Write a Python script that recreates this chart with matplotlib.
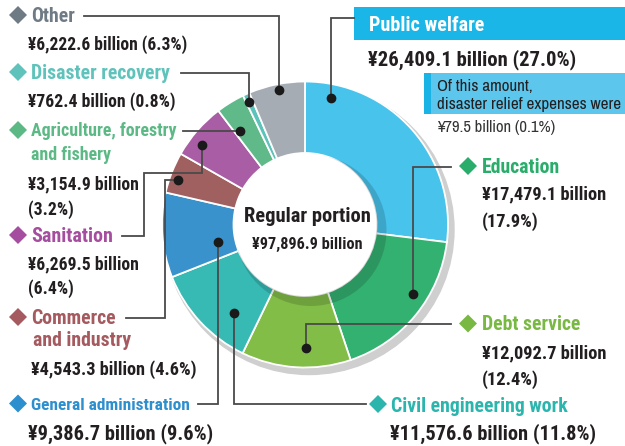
import matplotlib
matplotlib.use("Agg")
import matplotlib.pyplot as plt
from matplotlib.patches import Circle, Polygon, Rectangle

# ---------------- data ----------------
categories = ["Public welfare", "Education", "Debt service", "Civil engineering work",
              "General administration", "Commerce and industry", "Sanitation",
              "Agriculture, forestry and fishery", "Disaster recovery", "Other"]
amounts = [26409.1, 17479.1, 12092.7, 11576.6, 9386.7, 4543.3, 6269.5, 3154.9, 762.4, 6222.6]
shares = [27.0, 17.9, 12.4, 11.8, 9.6, 4.6, 6.4, 3.2, 0.8, 6.3]
total_label = "Regular portion"
total_amount = 97896.9
relief_amount = 79.5
relief_share = 0.1

# ---------------- style ----------------
slice_colors = ["#48c3ec", "#33b171", "#82bd48", "#37b9b4", "#3a92cc",
                "#a06060", "#a85da4", "#60b988", "#5cc2ba", "#a5acb3"]
label_colors = ["#ffffff", "#2aac6a", "#7ab844", "#2bb5ad", "#2e8fcf",
                "#a45a5e", "#a54d9e", "#5cb985", "#5fc3bb", "#6e7b85"]
NARROW = ["Roboto Condensed", "DejaVu Sans"]
REG = ["Archivo Narrow", "Roboto Condensed", "DejaVu Sans"]
K = 0.95
DARK = "#231f20"
LINE = "#4a4a4a"

W, H = 625, 446
fig = plt.figure(figsize=(W / 100, H / 100), dpi=100)
ax = fig.add_axes([0, 0, 1, 1])

def Y(y):
    return H - y

cx, cy, R = 305, 224.5, 143
rin = 71.5

# outer shadow
ax.add_patch(Circle((cx + 4, Y(cy + 5)), R + 2, color="#cfcfcf", zorder=0))

wedges, _ = ax.pie(amounts, colors=slice_colors, startangle=90, counterclock=False,
                   center=(cx, Y(cy)), radius=R,
                   wedgeprops=dict(width=R - rin, edgecolor="white", linewidth=1.3),
                   frame=True)
for w in wedges:
    w.set_zorder(1)

# inner shadow + hole
ax.add_patch(Circle((cx + 6, Y(cy + 6)), rin + 4, color="black", alpha=0.15, zorder=2, lw=0))
ax.add_patch(Circle((cx, Y(cy)), rin, color="white", zorder=3, lw=0))

ax.set_xlim(0, W)
ax.set_ylim(0, H)
ax.set_aspect("equal")
ax.axis("off")

# center text
ax.text(307, Y(216.5), total_label, ha="center", va="center", fontsize=15.5 * K,
        fontweight="bold", family=NARROW, color=DARK, zorder=5)
ax.text(307, Y(244.5), f"¥{total_amount:,.1f} billion", ha="center", va="center",
        fontsize=12.3 * K, fontweight="bold", family=NARROW, color=DARK, zorder=5)

def money(i):
    return f"¥{amounts[i]:,.1f} billion"

def pct(i):
    return f"({shares[i]:.1f}%)"

def diamond(x, y, color, h=9):
    ax.add_patch(Polygon([(x - h, Y(y)), (x, Y(y - h)), (x + h, Y(y)), (x, Y(y + h))],
                         closed=True, color=color, lw=0, zorder=4))

def path(pts):
    xs = [p[0] for p in pts]
    ys = [Y(p[1]) for p in pts]
    ax.plot(xs, ys, color=LINE, lw=1.3, zorder=6, solid_joinstyle="miter")
    ax.plot(xs[0], ys[0], "o", color="#1a1a1a", ms=6, zorder=7)

def txt(x, y, s, size, color=DARK, bold=True, ha="left"):
    if bold:
        ax.text(x, Y(y + 1.5), s, ha=ha, va="center", fontsize=size * K,
                fontweight="bold", family=NARROW, color=color, zorder=8)
    else:
        ax.text(x, Y(y + 1.5), s, ha=ha, va="center", fontsize=size,
                fontweight="normal", family=REG, color=color, zorder=8)

# ----- Other (9)
diamond(18, 15, "#6e7b85")
txt(31, 15, "Other", 15, label_colors[9])
txt(28, 43, f"{money(9)} {pct(9)}", 13.3)
path([(279, 90), (279, 15.5), (84, 15.5)])

# ----- Disaster recovery (8)
diamond(18, 72, label_colors[8])
txt(31, 72, "Disaster recovery", 15, label_colors[8])
txt(28, 100, f"{money(8)} {pct(8)}", 13.4)
path([(249, 101.5), (249, 73), (181, 73)])

# ----- Agriculture (7)
diamond(18, 130, label_colors[7])
txt(31, 130, "Agriculture, forestry", 13.6, label_colors[7])
txt(31, 153, "and fishery", 13.6, label_colors[7])
txt(28, 183, money(7), 13.4)
txt(28, 208, pct(7), 13.4)
path([(240, 130.5), (183, 130.5)])

# ----- Sanitation (6)
diamond(18, 235, label_colors[6])
txt(31, 235, "Sanitation", 15.2, label_colors[6])
txt(28, 263, money(6), 13.4)
txt(28, 287, pct(6), 13.4)
path([(202, 144.5), (202, 172.5), (144, 172.5), (144, 235.5), (122, 235.5)])

# ----- Commerce (5)
diamond(18, 317, label_colors[5])
txt(31, 317, "Commerce", 15, label_colors[5])
txt(33, 339, "and industry", 15, label_colors[5])
txt(31, 368, f"{money(5)} {pct(5)}", 13.8)
path([(178, 180), (165, 180), (165, 318), (126, 318)])

# ----- General administration (4)
diamond(18, 403.5, label_colors[4])
txt(31, 403.5, "General administration", 13.2, label_colors[4])
txt(28, 432, f"{money(4)} {pct(4)}", 15.4)
path([(218, 242), (218, 404), (198, 404)])

# ----- Civil engineering (3)
diamond(378, 404, label_colors[3])
txt(391, 405, "Civil engineering work", 15, label_colors[3])
txt(390, 432, f"{money(3)} {pct(3)}", 15.4)
path([(234, 313), (234, 404), (366, 404)])

# ----- Debt service (2)
diamond(468, 323.5, label_colors[2])
txt(482, 323.5, "Debt service", 15, label_colors[2])
txt(482, 352, money(2), 13.9)
txt(482, 378, pct(2), 13.9)
path([(306, 348), (306, 323.5), (451, 323.5)])

# ----- Education (1)
diamond(468, 166, label_colors[1])
txt(482, 166, "Education", 15, label_colors[1])
txt(482, 193, money(1), 13.9)
txt(482, 220, pct(1), 13.9)
path([(413, 293.5), (413, 167), (451, 167)])

# ----- Public welfare (0)
ax.add_patch(Rectangle((353.5, Y(40)), W - 353.5, 32.7, color="#1ab6e8", lw=0, zorder=4))
txt(369, 24, "Public welfare", 15.3, "white")
txt(368, 58, f"{money(0)} {pct(0)}", 15.6)
path([(331, 98), (331, 17.5), (354, 17.5)])
ax.add_patch(Rectangle((423.5, Y(113.5)), W - 423.5, 40.8, color="#5cc6ec", lw=0, zorder=4))
ax.add_patch(Rectangle((423.5, Y(113.5)), 7.5, 40.8, color="#19b3e6", lw=0, zorder=4))
txt(437, 85, "Of this amount,", 12.3, bold=False)
txt(437, 103, "disaster relief expenses were", 12.3, bold=False)
txt(437, 126, f"¥{relief_amount} billion ({relief_share}%)", 12, color="#333333", bold=False)

fig.savefig("out.png", dpi=100)
